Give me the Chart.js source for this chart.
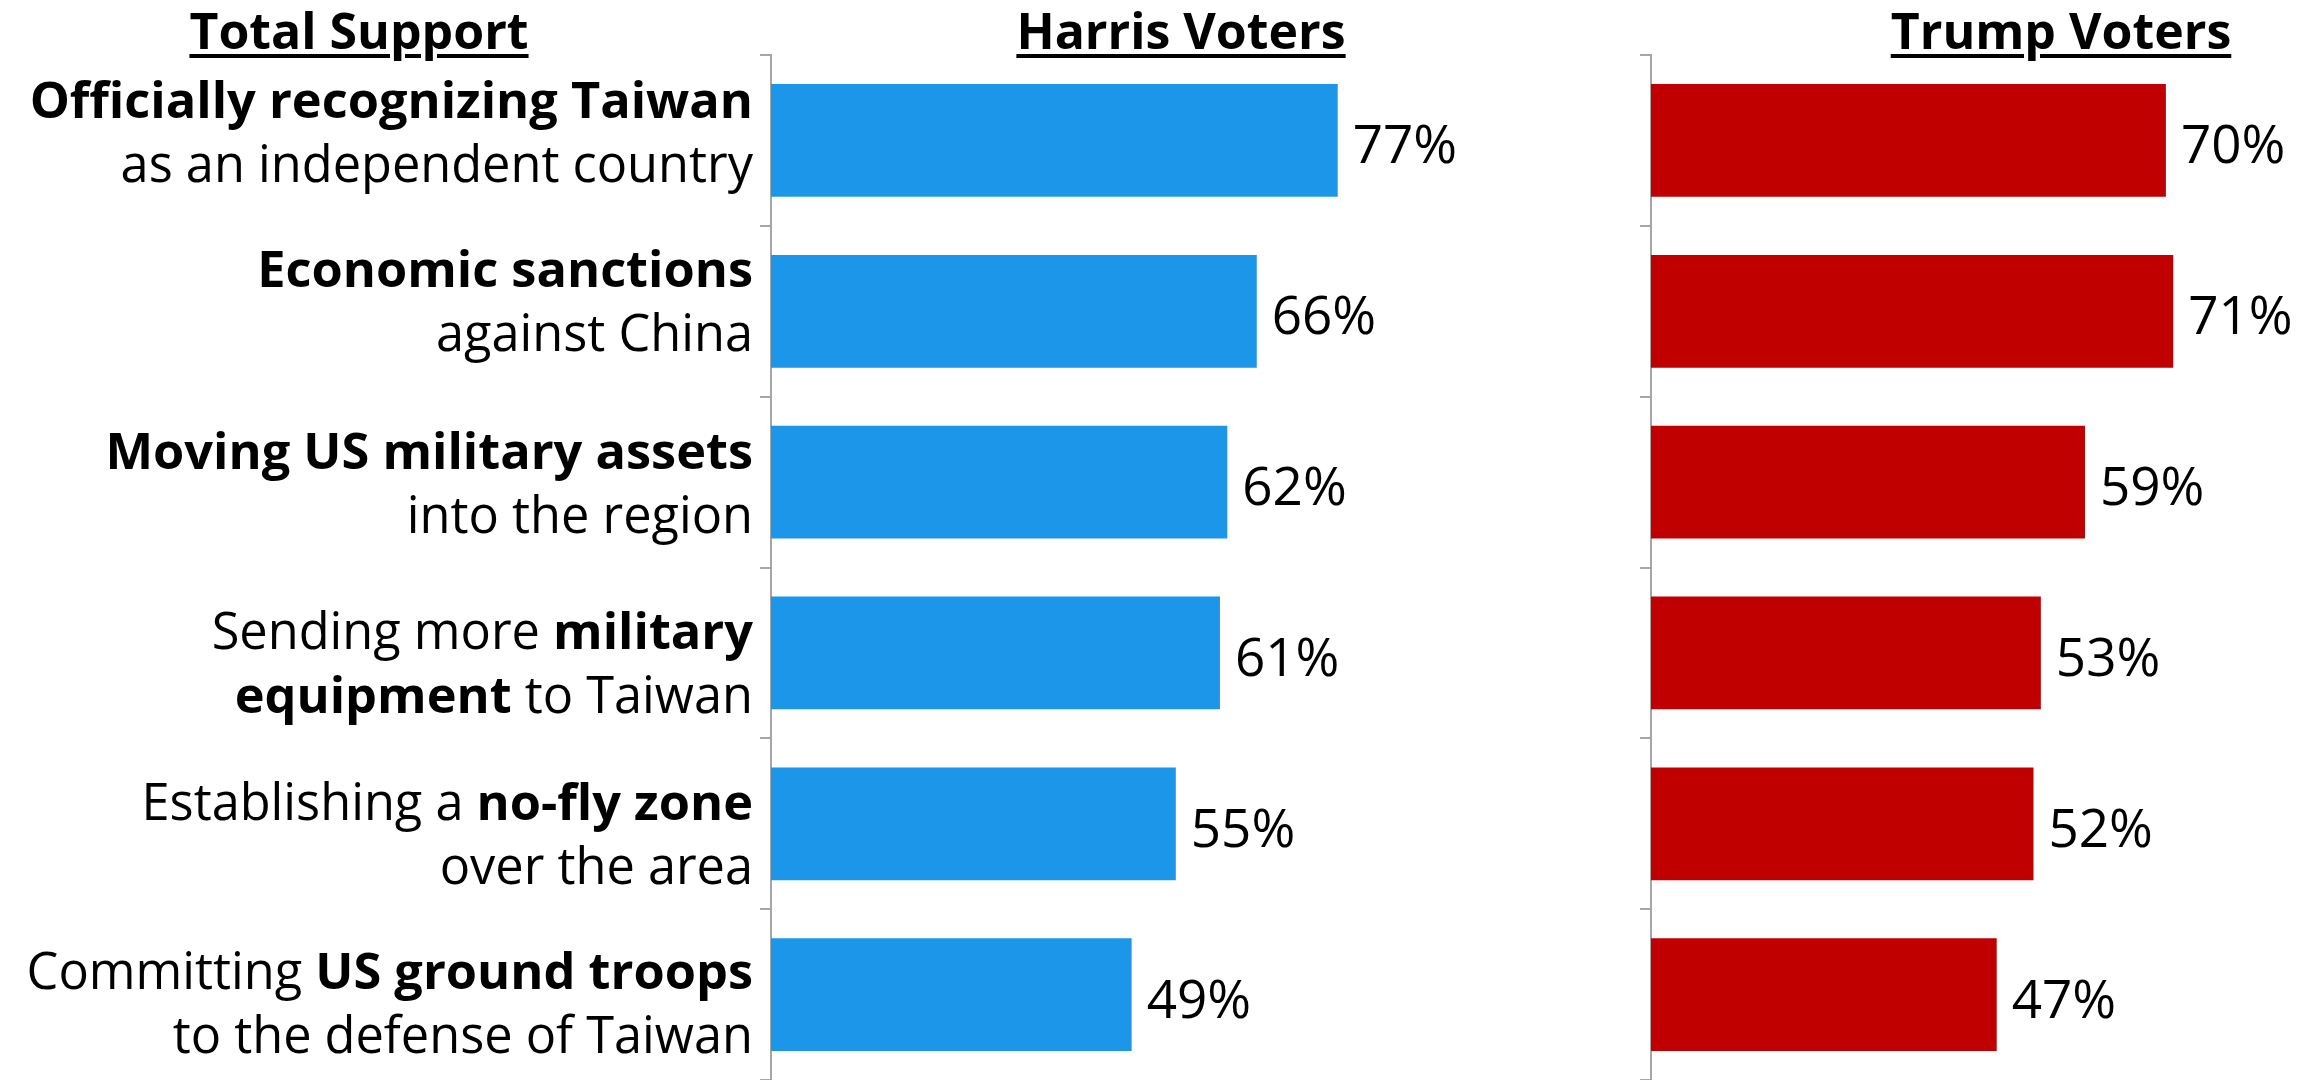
<!DOCTYPE html>
<html>
<head>
<meta charset="utf-8">
<title>Support for actions on Taiwan</title>
<script src="https://cdn.jsdelivr.net/npm/chart.js@4.4.1/dist/chart.umd.min.js"></script>
<style>
  body { margin: 0; background: #fff; width: 2315px; height: 1080px; overflow: hidden; position: relative; font-family: 'Open Sans', sans-serif; }
  .hdr { position: absolute; top: 0; transform: translateX(-50%); font-weight: bold; font-size: 50px; line-height: 60px;
         text-decoration: underline; text-decoration-thickness: 4px; text-underline-offset: 5px; color: #000; white-space: nowrap; }
  #harris { position: absolute; left: 0; top: 0; }
  #trump { position: absolute; left: 1500px; top: 0; }
</style>
</head>
<body>
<div class="hdr" style="left:359px">Total Support</div>
<div class="hdr" style="left:1181px">Harris Voters</div>
<div class="hdr" style="left:2061px">Trump Voters</div>
<canvas id="harris" width="1520" height="1080"></canvas>
<canvas id="trump" width="815" height="1080"></canvas>
<script>
  // ** marks the bold part of a line
  const categories = [
    ['**Officially recognizing Taiwan**', 'as an independent country'],
    ['**Economic sanctions**', 'against China'],
    ['**Moving US military assets**', 'into the region'],
    ['Sending more **military**', '**equipment** to Taiwan'],
    ['Establishing a **no-fly zone**', 'over the area'],
    ['Committing **US ground troops**', 'to the defense of Taiwan']
  ];
  const harrisValues = [77, 66, 62, 61, 55, 49];
  const trumpValues = [70, 71, 59, 53, 52, 47];

  const FONT = "'Open Sans'";
  const LABEL_SIZE = 50.5;
  const VALUE_SIZE = 53;
  Chart.defaults.font.family = FONT;

  // the text boxes in the original sit a little unevenly against their bars
  const firstLineShift = [-22, -24, -13, -4, -4, -6];
  const LINE_GAP = 64;

  function drawRich(ctx, line, xRight, y) {
    const parts = line.split('**');
    const fontFor = i => (i % 2 === 1 ? 'bold ' : '') + LABEL_SIZE + 'px ' + FONT;
    const widths = parts.map((p, i) => { ctx.font = fontFor(i); return ctx.measureText(p).width; });
    let x = xRight - widths.reduce((a, b) => a + b, 0);
    parts.forEach((p, i) => {
      ctx.font = fontFor(i);
      ctx.fillText(p, x, y);
      x += widths[i];
    });
  }

  const labelPlugin = {
    id: 'richLabels',
    afterDraw(chart) {
      const ctx = chart.ctx;
      const yScale = chart.scales.y;
      ctx.save();
      ctx.fillStyle = '#000';
      ctx.textAlign = 'left';
      ctx.textBaseline = 'alphabetic';
      categories.forEach((lines, i) => {
        const base = yScale.getPixelForValue(i) + firstLineShift[i];
        drawRich(ctx, lines[0], chart.chartArea.left - 18, base);
        drawRich(ctx, lines[1], chart.chartArea.left - 18, base + LINE_GAP);
      });
      ctx.restore();
    }
  };

  const valuePlugin = {
    id: 'valueLabels',
    afterDatasetsDraw(chart) {
      const ctx = chart.ctx;
      const ds = chart.data.datasets[0];
      ctx.save();
      ctx.fillStyle = '#000';
      ctx.font = VALUE_SIZE + 'px ' + FONT;
      ctx.textAlign = 'left';
      ctx.textBaseline = 'alphabetic';
      chart.getDatasetMeta(0).data.forEach((bar, i) => {
        ctx.fillText(ds.data[i] + '%', bar.x + 15, bar.y + 23);
      });
      ctx.restore();
    }
  };

  function makeChart(id, values, color, xMax, axisWidth, padRight, extra) {
    return new Chart(document.getElementById(id), {
      type: 'bar',
      data: {
        labels: categories.map(c => c.join(' ').replace(/\*\*/g, '')),
        datasets: [{
          data: values,
          backgroundColor: color,
          borderWidth: 0,
          categoryPercentage: 1,
          barPercentage: 0.66
        }]
      },
      options: {
        indexAxis: 'y',
        responsive: false,
        animation: false,
        layout: { padding: { top: 55, right: padRight, bottom: 0, left: 0 } },
        plugins: { legend: { display: false }, tooltip: { enabled: false } },
        scales: {
          x: { display: false, min: 0, max: xMax },
          y: {
            afterFit: s => { s.width = axisWidth; },
            ticks: { display: false },
            grid: { offset: true, drawOnChartArea: false, drawTicks: true, tickLength: 11, color: '#a6a6a6', lineWidth: 2 },
            border: { display: true, color: '#a6a6a6', width: 2 }
          }
        }
      },
      plugins: extra
    });
  }

  makeChart('harris', harrisValues, '#1b96e8', 100, 771, 13, [valuePlugin, labelPlugin]);
  makeChart('trump', trumpValues, '#c00000', 90, 151, 2, [valuePlugin]);
</script>
</body>
</html>
